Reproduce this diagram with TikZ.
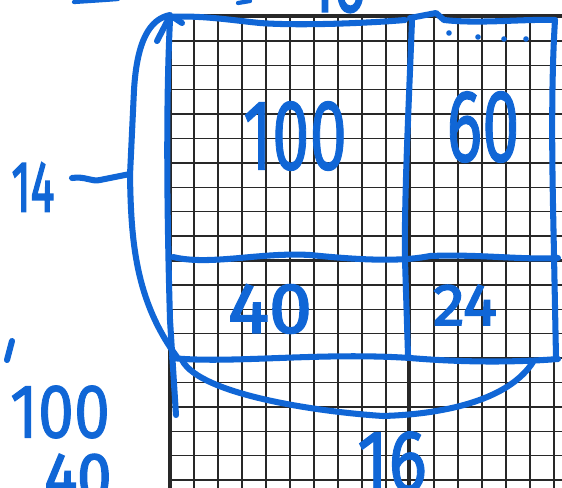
\documentclass[tikz,border=0pt]{standalone}
\usepackage{fontspec}
\setmainfont{Fira Sans}
\newfontfamily\penbig{Fira Sans}[FakeBold=1.2]
\newfontfamily\pensmall{Fira Sans}[FakeBold=2.6]
\usepackage{graphicx}
\definecolor{pen}{RGB}{16,102,214}
\definecolor{gridc}{RGB}{40,40,40}
\newlength\px \setlength\px{0.025cm}
\newcommand\hw[3]{\resizebox{#1\px}{#2\px}{#3}}
\begin{document}
\begin{tikzpicture}[x=0.025cm,y=-0.025cm,
  penline/.style={draw=pen,line width=4.3pt,line cap=round,line join=round},
  gridline/.style={draw=gridc,line width=1.1pt},
  majorline/.style={draw=gridc,line width=2.8pt},
  lbl/.style={text=pen,inner sep=0pt,outer sep=0pt}]
\useasboundingbox (0,0) rectangle (562,488);
\fill[white] (0,0) rectangle (562,488);
% graph paper
\foreach \i in {1,...,16} \draw[gridline] ({170+24*\i},16) -- ({170+24*\i},490);
\foreach \j in {1,...,19} \draw[gridline] (170,{16.5+24.4*\j}) -- (564,{16.5+24.4*\j});
\draw[majorline] (170,16) -- (564,16);
\draw[majorline] (170,16) -- (170,490);
\draw[majorline] (409,16) -- (409,490);
\draw[majorline] (170,260.5) -- (564,260.5);
% outer rectangle (blue)
\draw[penline] (168,17) .. controls (200,15) and (230,20) .. (260,23) .. controls (300,26) and (370,23) .. (405,20);
\draw[penline] (410,18) -- (436,13) -- (444,20) .. controls (480,24) and (520,19) .. (555,20);
\draw[penline] (555,20) .. controls (550,100) and (553,200) .. (554,255) -- (556,357);
\draw[penline] (172,358) .. controls (230,364) and (320,352) .. (410,358) .. controls (470,363) and (520,362) .. (558,359);
\draw[penline] (170,20) .. controls (165,120) and (168,250) .. (170,320) -- (176,415);
\draw[penline] (412,20) .. controls (409,100) and (404,200) .. (405,260) -- (408,355);
\draw[penline] (173,257) .. controls (210,266) and (260,252) .. (310,255) .. controls (360,260) and (400,262) .. (430,256) .. controls (480,254) and (520,260) .. (558,258);
% corner marks
\draw[penline] (170,16) -- (157,41);
\draw[penline] (173,17) -- (182,23);
% left brace
\draw[penline] (170,15) .. controls (150,19) and (137,40) .. (134,90) -- (130,175) .. controls (131,240) and (135,300) .. (177,357);
\draw[penline] (72,178) .. controls (85,176) and (92,182) .. (100,180) -- (130,174);
% bottom brace
\draw[penline] (182,360) .. controls (200,395) and (320,412) .. (383,416) .. controls (450,414) and (510,398) .. (533,362);
% dots
\foreach \x/\y in {449/33,478/37,504/39,526/39} \fill[pen] (\x,\y) circle (2.8);
% small marks
\draw[penline] (12,341) -- (7,360);
\draw[penline,line width=3pt] (74,2) .. controls (90,1) and (105,0) .. (118,-1);
\draw[penline,line width=3pt] (238,3) -- (250,1);
% labels
\node[lbl] (t100) at (295,136) {\hw{104}{68}{\penbig 100}};
\node[lbl] (t60) at (483,127) {\hw{73}{70}{\penbig 60}};
\node[lbl] (t40) at (270,309) {\hw{84}{48}{\pensmall 40}};
\node[lbl] (t24) at (465,305) {\hw{64}{40}{\pensmall 24}};
\node[lbl] (t14) at (33,187) {\hw{43}{49}{\pensmall 14}};
\node[lbl] (l100) at (60,412) {\hw{100}{52}{\penbig 100}};
\node[lbl] (l40) at (78,477) {\hw{67}{45}{\pensmall 40}};
\node[lbl] (b16) at (392,462) {\hw{70}{60}{\penbig 16}};
\node[lbl] (top16) at (337,-16) {\hw{56}{56}{\pensmall 16}};
\end{tikzpicture}
\end{document}
